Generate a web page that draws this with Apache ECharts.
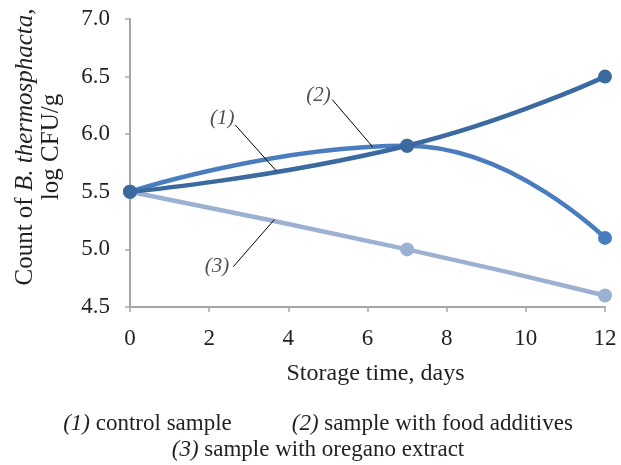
<!DOCTYPE html>
<html>
<head>
<meta charset="utf-8">
<script src="https://cdn.jsdelivr.net/npm/echarts@6/dist/echarts.min.js"></script>
<style>
html,body{margin:0;padding:0;background:#fff;}
#chart{width:621px;height:465px;}
</style>
</head>
<body>
<div id="chart"></div>
<script>
// ---- data ----
const days = [0, 7, 12];
const control = [5.5, 5.9, 6.5];
const additives = [5.5, 5.9, 5.1];
const oregano = [5.5, 5.0, 4.6];
const seriesNames = ['(1) control sample', '(2) sample with food additives', '(3) sample with oregano extract'];
const annotationTexts = ['(1)', '(2)', '(3)'];
const annotationAt = [[2.33, 6.14], [4.76, 6.34], [2.20, 4.85]];
const leaderFrom = [[2.66, 6.08], [5.11, 6.30], [2.61, 4.85]];
const leaderTo = [[3.70, 5.68], [6.13, 5.89], [3.65, 5.26]];

const font = 'Liberation Serif';
const txt = '#231f20';
const axisGray = '#a6a6a6';
const colors = ['#3b6a9e', '#4a7dbd', '#9cb1d2'];

function pairs(ys) { return days.map((d, i) => [d, ys[i]]); }

const chart = echarts.init(document.getElementById('chart'), null, {renderer: 'canvas'});

const lineSeries = [control, additives, oregano].map((ys, k) => ({
  name: seriesNames[k],
  type: 'line',
  data: pairs(ys),
  smooth: 0.5,
  symbol: 'circle',
  symbolSize: 14,
  showSymbol: true,
  lineStyle: {color: colors[k], width: 4.5},
  itemStyle: {color: colors[k]},
  z: 3 - k
}));

const annotationSeries = {
  type: 'scatter',
  data: annotationAt.map((p, i) => ({value: p, name: annotationTexts[i]})),
  symbolSize: 0,
  silent: true,
  z: 5,
  label: {
    show: true, position: 'inside',
    formatter: p => p.name,
    fontFamily: font, fontStyle: 'italic', fontSize: 21, color: txt
  },
  markLine: {
    silent: true,
    symbol: 'none',
    label: {show: false},
    lineStyle: {color: '#000', width: 1, type: 'solid'},
    data: leaderFrom.map((p, i) => [{coord: p}, {coord: leaderTo[i]}])
  }
};

chart.setOption({
  backgroundColor: '#fff',
  animation: false,
  grid: {left: 130, right: 16, top: 19, bottom: 158, outerBoundsMode: 'none', containLabel: false},
  xAxis: {
    type: 'value', min: 0, max: 12, interval: 2,
    name: 'Storage time, days', nameLocation: 'middle', nameGap: 55,
    nameTextStyle: {fontFamily: font, fontSize: 24, color: txt, padding: [0, 0, 0, 16]},
    axisLine: {lineStyle: {color: axisGray, width: 2}},
    axisTick: {show: true, length: 5, lineStyle: {color: axisGray, width: 1.5}},
    axisLabel: {fontFamily: font, fontSize: 23, color: txt, margin: 20},
    splitLine: {show: false}
  },
  yAxis: {
    type: 'value', min: 4.5, max: 7.0, interval: 0.5,
    axisLine: {show: true, lineStyle: {color: axisGray, width: 2}},
    axisTick: {show: true, length: 5, lineStyle: {color: axisGray, width: 1.5}},
    axisLabel: {fontFamily: font, fontSize: 23, color: txt, margin: 20, formatter: v => v.toFixed(1)},
    splitLine: {show: false}
  },
  graphic: [
    {
      type: 'text', x: 38, y: 147, rotation: Math.PI / 2,
      style: {
        text: 'Count of {i|B. thermosphacta},\nlog CFU/g',
        fontFamily: font, fontSize: 25, fill: txt, lineHeight: 26,
        align: 'center', verticalAlign: 'middle',
        rich: {i: {fontFamily: font, fontSize: 25, fontStyle: 'italic', fill: txt, lineHeight: 26}}
      }
    },
    {
      type: 'text', x: 318, y: 424,
      style: {
        text: '{i|(1)} control sample{g| }{i|(2)} sample with food additives',
        fontFamily: font, fontSize: 23, fill: txt, align: 'center', verticalAlign: 'middle',
        rich: {
          i: {fontFamily: font, fontSize: 23, fontStyle: 'italic', fill: txt},
          g: {width: 60}
        }
      }
    },
    {
      type: 'text', x: 318, y: 450,
      style: {
        text: '{i|(3)} sample with oregano extract',
        fontFamily: font, fontSize: 23, fill: txt, align: 'center', verticalAlign: 'middle',
        rich: {i: {fontFamily: font, fontSize: 23, fontStyle: 'italic', fill: txt}}
      }
    }
  ],
  series: [...lineSeries, annotationSeries]
});
</script>
</body>
</html>
